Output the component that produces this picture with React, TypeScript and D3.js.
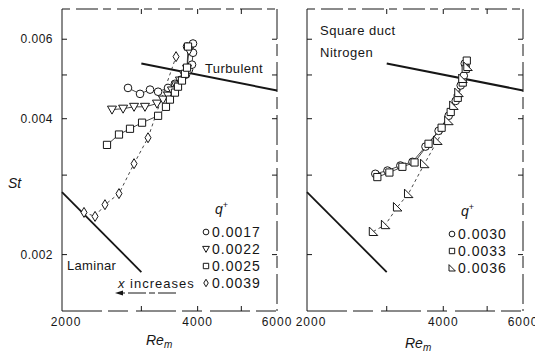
import React from 'react';
import * as d3 from 'd3';

// axis ticks
const reTicks = [2000, 3000, 4000, 5000, 6000];
const reLabels = [2000, 4000, 6000];
const stTicks = [0.002, 0.003, 0.004, 0.005, 0.006];
const stLabels = [0.002, 0.004, 0.006];

// reference correlations
const turbulent: [number, number][] = [[3000, 0.0053], [6000, 0.00462]];
const laminar: [number, number][] = [[2000, 0.00275], [3000, 0.00183]];

// left panel, [Re, St]
const q0017: [number, number][] = [
  [2802, 0.00468], [2980, 0.00454], [3136, 0.00464], [3268, 0.00459], [3438, 0.00468],
  [3562, 0.00478], [3674, 0.00488], [3770, 0.00501], [3827, 0.00514], [3886, 0.00527],
  [3906, 0.0056], [3906, 0.00587], [3789, 0.00578],
];
const q0022: [number, number][] = [
  [2582, 0.00419], [2733, 0.00421], [2890, 0.00425], [3056, 0.00425], [3249, 0.00432],
  [3351, 0.00441], [3438, 0.0045], [3508, 0.00462], [3582, 0.00474], [3654, 0.00486],
  [3730, 0.00501], [3789, 0.00516], [3827, 0.00566],
];
const q0025: [number, number][] = [
  [2517, 0.0035], [2676, 0.00369], [2831, 0.0038], [3011, 0.00392], [3268, 0.00406],
  [3402, 0.00425], [3472, 0.00441], [3562, 0.00457], [3618, 0.00471], [3692, 0.00486],
  [3750, 0.00503], [3789, 0.00519], [3808, 0.00578],
];
const q0039: [number, number][] = [
  [2238, 0.00248], [2368, 0.00243], [2491, 0.00258], [2676, 0.00273], [2890, 0.00318],
  [3104, 0.00363], [3582, 0.00549],
];

// right panel, [Re, St]
const q0030: [number, number][] = [
  [2831, 0.00302], [3011, 0.00307], [3216, 0.00315], [3420, 0.00321], [3654, 0.00347],
  [3906, 0.00376], [4111, 0.00406], [4261, 0.00438], [4371, 0.00474], [4439, 0.00498],
  [4462, 0.0053],
];
const q0033: [number, number][] = [
  [2860, 0.00297], [3041, 0.00304], [3249, 0.00313], [3456, 0.0032], [3711, 0.00352],
  [3966, 0.00382], [4154, 0.00414], [4305, 0.00445], [4416, 0.00481], [4484, 0.00516],
  [4508, 0.00538],
];
const q0036: [number, number][] = [
  [2802, 0.00225], [2980, 0.00233], [3168, 0.00255], [3351, 0.00273], [3636, 0.00318],
  [3886, 0.00358], [4111, 0.00396], [4217, 0.00428], [4327, 0.00457], [4416, 0.00491],
  [4531, 0.00522],
];

const INK = '#161616';
const FONT = '"Liberation Sans", Arial, sans-serif';
const top = 9;
const bottom = 311;

const y = d3.scaleLog().domain([0.0015, 0.007]).range([bottom, top]);
const xL = d3.scaleLog().domain([2000, 6000]).range([62, 277]);
const xR = d3.scaleLog().domain([2000, 6000]).range([307, 523]);

type Shape = 'circle' | 'tri' | 'square' | 'diamond' | 'rtri';

function markerPath(shape: Shape, s: number) {
  switch (shape) {
    case 'tri':
      return `M${-4.5 * s},${-3.5 * s}L${4.5 * s},${-3.5 * s}L0,${4.5 * s}Z`;
    case 'square':
      return `M${-3.6 * s},${-3.6 * s}h${7.2 * s}v${7.2 * s}h${-7.2 * s}Z`;
    case 'diamond':
      return `M0,${-5 * s}L${3 * s},0L0,${5 * s}L${-3 * s},0Z`;
    case 'rtri':
      return `M${-4 * s},${-4.5 * s}L${-4 * s},${4 * s}L${4.5 * s},${4 * s}Z`;
    default:
      return d3.symbol(d3.symbolCircle, 46 * s * s)()!;
  }
}

const Marker = ({ shape, cx, cy, s = 1 }: { shape: Shape; cx: number; cy: number; s?: number }) => (
  <path d={markerPath(shape, s)} transform={`translate(${cx},${cy})`} fill="white" stroke={INK} strokeWidth={1} />
);

interface Series {
  data: [number, number][];
  shape: Shape;
  dash?: string;
}

const Panel = ({ x, series }: { x: d3.ScaleLogarithmic<number, number>; series: Series[] }) => {
  const [x0, x1] = x.range();
  const line = d3
    .line<[number, number]>()
    .x(d => x(d[0]))
    .y(d => y(d[1]));
  return (
    <g>
      {/* frame */}
      <line x1={x0} x2={x0} y1={top} y2={bottom} stroke={INK} strokeWidth={1} />
      <line x1={x0} x2={x1} y1={bottom} y2={bottom} stroke={INK} strokeWidth={1} strokeDasharray="40 6 20 8" />
      <line x1={x1} x2={x1} y1={top} y2={bottom} stroke={INK} strokeWidth={1} strokeDasharray="30 5 12 6" />
      <line x1={x0} x2={x1} y1={top} y2={top} stroke={INK} strokeWidth={1} strokeDasharray="8 6 22 5" />
      {stTicks.map(t => (
        <g key={t}>
          <line x1={x0} x2={x0 + 5} y1={y(t)} y2={y(t)} stroke={INK} />
          <line x1={x1} x2={x1 - 5} y1={y(t)} y2={y(t)} stroke={INK} />
        </g>
      ))}
      {reTicks.slice(1, -1).map(t => (
        <g key={t}>
          <line x1={x(t)} x2={x(t)} y1={bottom} y2={bottom - 5} stroke={INK} />
          <line x1={x(t)} x2={x(t)} y1={top} y2={top + 5} stroke={INK} />
        </g>
      ))}
      {reLabels.map(t => (
        <text key={t} x={x(t) + (t === 2000 ? 4 : 0)} y={326} textAnchor="middle" fontSize={12} letterSpacing={1} fill={INK}>
          {t}
        </text>
      ))}
      {/* correlations */}
      <path d={line(turbulent)!} fill="none" stroke={INK} strokeWidth={2} />
      <path d={line(laminar)!} fill="none" stroke={INK} strokeWidth={1.8} />
      {/* data */}
      {series.map((s, i) => (
        <path key={i} d={line(s.data)!} fill="none" stroke={INK} strokeWidth={0.8} strokeDasharray={s.dash} />
      ))}
      {series.map((s, i) => (
        <g key={i}>
          {s.data.map((d, j) => (
            <Marker key={j} shape={s.shape} cx={x(d[0])} cy={y(d[1])} />
          ))}
        </g>
      ))}
    </g>
  );
};

const Legend = ({ x0, y0, title, items }: { x0: number; y0: number; title: string; items: { shape: Shape; label: string }[] }) => (
  <g fontSize={14} fill={INK}>
    <text x={x0 + 8} y={y0} fontStyle="italic">
      q<tspan dy={-6} fontSize={9} fontStyle="normal">{title}</tspan>
    </text>
    {items.map((it, i) => (
      <g key={it.label}>
        <Marker shape={it.shape} cx={x0 - 1} cy={y0 + 18 + i * 17} s={0.75} />
        <text x={x0 + 5} y={y0 + 23 + i * 17} letterSpacing={1}>
          {it.label}
        </text>
      </g>
    ))}
  </g>
);

export default function App() {
  const leftSeries: Series[] = [
    { data: q0017, shape: 'circle' },
    { data: q0022, shape: 'tri' },
    { data: q0025, shape: 'square' },
    { data: q0039, shape: 'diamond', dash: '3 3' },
  ];
  const rightSeries: Series[] = [
    { data: q0030, shape: 'circle' },
    { data: q0033, shape: 'square' },
    { data: q0036, shape: 'rtri', dash: '3 3' },
  ];
  return (
    <svg width={535} height={353} style={{ position: 'absolute', left: 0, top: 0, background: 'white' }} fontFamily={FONT}>
      <rect width={535} height={353} fill="white" />
      <Panel x={xL} series={leftSeries} />
      <Panel x={xR} series={rightSeries} />

      {/* y tick labels */}
      {stLabels.map(t => (
        <text key={t} x={53} y={y(t) + 4} textAnchor="end" fontSize={12} letterSpacing={0.5} fill={INK}>
          {t.toFixed(3)}
        </text>
      ))}
      <text x={8} y={188} fontSize={14} fontStyle="italic" fill={INK}>St</text>

      {/* axis titles */}
      <text x={146} y={345} fontSize={14} fontStyle="italic" fill={INK}>
        Re<tspan dy={3} fontSize={10}>m</tspan>
      </text>
      <text x={405} y={348} fontSize={14} fontStyle="italic" fill={INK}>
        Re<tspan dy={3} fontSize={10}>m</tspan>
      </text>

      {/* annotations */}
      <text x={205} y={73} fontSize={13} letterSpacing={0.4} fill={INK}>Turbulent</text>
      <text x={67} y={270} fontSize={13} letterSpacing={0.3} fill={INK}>Laminar</text>
      <text x={118} y={288} fontSize={13} letterSpacing={1} fill={INK}>
        <tspan fontStyle="italic">x</tspan> increases
      </text>
      <line x1={176} x2={120} y1={293} y2={293} stroke={INK} strokeWidth={1} strokeDasharray="18 3 6 3" />
      <path d="M115,293 L123,290.5 L123,295.5 Z" fill={INK} />
      <text x={320} y={35} fontSize={13} letterSpacing={0.5} fill={INK}>Square duct</text>
      <text x={320} y={57} fontSize={13} letterSpacing={0.5} fill={INK}>Nitrogen</text>

      <Legend
        x0={207}
        y0={214}
        title="+"
        items={[
          { shape: 'circle', label: '0.0017' },
          { shape: 'tri', label: '0.0022' },
          { shape: 'square', label: '0.0025' },
          { shape: 'diamond', label: '0.0039' },
        ]}
      />
      <Legend
        x0={453}
        y0={216}
        title="+"
        items={[
          { shape: 'circle', label: '0.0030' },
          { shape: 'square', label: '0.0033' },
          { shape: 'rtri', label: '0.0036' },
        ]}
      />
    </svg>
  );
}
